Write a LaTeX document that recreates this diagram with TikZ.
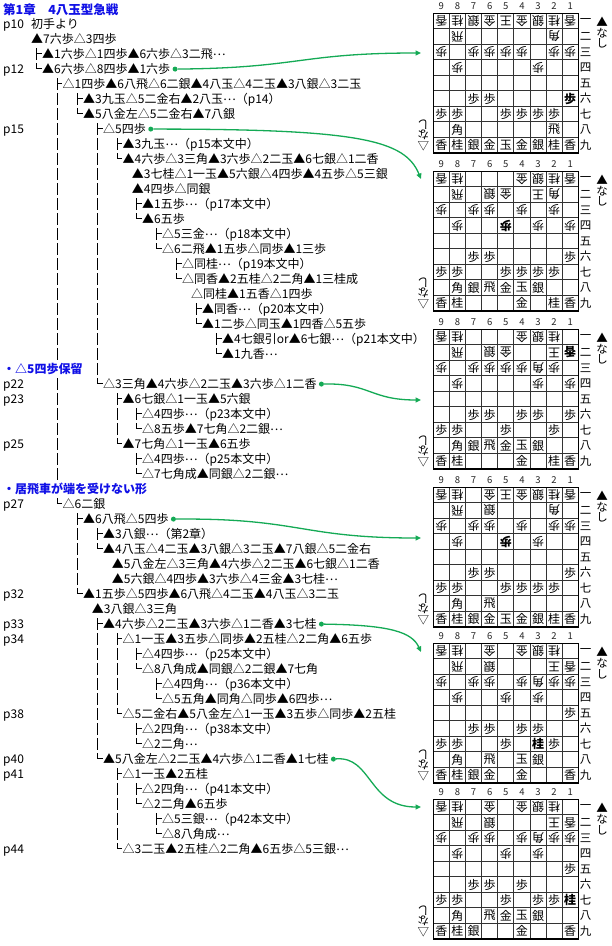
\documentclass[tikz,border=0pt]{standalone}
\usepackage{fontspec}
\setmainfont{Noto Sans CJK JP}
\usetikzlibrary{arrows.meta}
\definecolor{hdblue}{RGB}{16,16,230}
\definecolor{grn}{RGB}{20,170,85}
\newcommand{\el}{\raisebox{3.6bp}{…}}
\tikzset{
 txt/.style={anchor=base west, inner sep=0pt, font=\fontsize{12bp}{14bp}\selectfont},
 hdr/.style={anchor=base west, inner sep=0pt, text=hdblue, font=\fontsize{12bp}{14bp}\selectfont\bfseries},
 tree/.style={line width=0.9bp, black},
 grid/.style={line width=0.75bp, black!80},
 frame/.style={line width=1.6bp, black},
 colnum/.style={inner sep=0pt, text=black!85, font=\fontsize{9.5bp}{9.5bp}\selectfont},
 rownum/.style={inner sep=0pt, font=\fontsize{11.5bp}{12bp}\selectfont},
 hand/.style={inner sep=0pt, font=\fontsize{11.5bp}{12bp}\selectfont},
 sp/.style={inner sep=0pt, font=\fontsize{12bp}{12bp}\selectfont},
 gp/.style={sp, rotate=180},
 spb/.style={inner sep=0pt, font=\fontsize{12bp}{12bp}\selectfont\bfseries},
 gpb/.style={spb, rotate=180},
 dot/.style={circle, fill=grn, inner sep=0pt, minimum size=5bp},
 conn/.style={draw=grn, line width=1.3bp, -{Triangle[length=5.5bp,width=5bp]}}
}
\newcommand{\tl}[3]{\node[txt] (t#1) at (#2,{28.6+15*#1}) {#3};}
\newcommand{\pg}[2]{\node[txt] (p#1) at (3,{28.6+15*#1}) {#2};}
\newcommand{\brT}[2]{\draw[tree] ({#1+1.5},{18+15*#2}) -- ({#1+1.5},{30+15*#2}) ({#1+1.5},{23.5+15*#2}) -- ({#1+6.5},{23.5+15*#2});}
\newcommand{\brL}[2]{\draw[tree] ({#1+1.5},{18+15*#2}) -- ({#1+1.5},{23+15*#2}) -- ({#1+6.5},{23+15*#2});}
\newcommand{\brI}[2]{\draw[tree] ({#1+1.5},{18+15*#2}) -- ({#1+1.5},{30+15*#2});}
\newcommand{\pcs}[3]{\foreach \f/\r/\p in {#3}{\node[#2] (b#1#2\f\r) at ({(9-\f)*16.11+8.05},{(\r-1)*15.49+7.75}) {\p};}}
\newcommand{\boardframe}[1]{%
 \foreach \k in {1,...,8}{\draw[grid] ({16.11*\k},0) -- ({16.11*\k},139.4); \draw[grid] (0,{15.49*\k}) -- (145,{15.49*\k});}
 \draw[frame] (0,0) rectangle (145,139.4);
 \foreach \f [count=\c from 0] in {9,8,...,1}{\node[colnum] (b#1c\f) at ({16.11*\c+8.05},-7.3) {\f};}
 \foreach \rr [count=\c from 0] in {一,二,三,四,五,六,七,八,九}{\node[rownum] (b#1r\c) at (152.4,{15.49*\c+7.75}) {\rr};}
 \node[hand] (b#1h1) at (168.8,8.2) {▲};
 \node[hand] (b#1h2) at (168.8,19.5) {な};
 \node[hand] (b#1h3) at (168.8,30.5) {し};
 \node[hand,rotate=180] (b#1k1) at (-10,133) {△};
 \node[hand,rotate=180] (b#1k2) at (-10,122) {な};
 \node[hand,rotate=180] (b#1k3) at (-10,111) {し};
}
\begin{document}
\begin{tikzpicture}[x=1bp,y=-1bp]
\useasboundingbox[fill=white] (0,0) rectangle (612,946);
% ---------- text tree ----------
\node[hdr, font=\fontsize{12.5bp}{14bp}\selectfont\bfseries] (title) at (3,14.6) {第1章　4八玉型急戦};
\pg{0}{p10} \tl{0}{31}{初手より}
\tl{1}{31}{▲7六歩△3四歩}
\brT{35}{2} \tl{2}{42}{▲1六歩△1四歩▲6六歩△3二飛\el}
\pg{3}{p12} \brL{35}{3} \tl{3}{42}{▲6六歩△8四歩▲1六歩}
\brT{55.5}{4} \tl{4}{62.5}{△1四歩▲6八飛△6二銀▲4八玉△4二玉▲3八銀△3二玉}
\brI{55.5}{5} \brT{76}{5} \tl{5}{83}{▲3九玉△5二金右▲2八玉\el（p14）}
\brI{55.5}{6} \brL{76}{6} \tl{6}{83}{▲5八金左△5二金右▲7八銀}
\pg{7}{p15} \brI{55.5}{7} \brT{96}{7} \tl{7}{103}{△5四歩}
\foreach \i in {8,...,22}{\brI{55.5}{\i} \brI{96}{\i}}
\brT{115.5}{8} \tl{8}{122.5}{▲3九玉\el（p15本文中）}
\brL{115.5}{9} \tl{9}{122.5}{▲4六歩△3三角▲3六歩△2二玉▲6七銀△1二香}
\tl{10}{131.7}{▲3七桂△1一玉▲5六銀△4四歩▲4五歩△5三銀}
\tl{11}{131.7}{▲4四歩△同銀}
\brT{135}{12} \tl{12}{142}{▲1五歩\el（p17本文中）}
\brL{135}{13} \tl{13}{142}{▲6五歩}
\brT{155}{14} \tl{14}{162}{△5三金\el（p18本文中）}
\brL{155}{15} \tl{15}{162}{△6二飛▲1五歩△同歩▲1三歩}
\brT{175}{16} \tl{16}{182}{△同桂\el（p19本文中）}
\brL{175}{17} \tl{17}{182}{△同香▲2五桂△2二角▲1三桂成}
\tl{18}{191}{△同桂▲1五香△1四歩}
\brT{195}{19} \tl{19}{202}{▲同香\el（p20本文中）}
\brL{195}{20} \tl{20}{202}{▲1二歩△同玉▲1四香△5五歩}
\brT{215}{21} \tl{21}{222}{▲4七銀引or▲6七銀\el（p21本文中）}
\brL{215}{22} \tl{22}{222}{▲1九香\el}
\node[hdr] (h23) at (3,{28.6+15*23}) {・△5四歩保留};
\brI{96}{23}
\foreach \i in {24,...,30}{\brI{55.5}{\i}}
\pg{24}{p22} \brL{96}{24} \tl{24}{103}{△3三角▲4六歩△2二玉▲3六歩△1二香}
\pg{25}{p23} \brT{115.5}{25} \tl{25}{122.5}{▲6七銀△1一玉▲5六銀}
\brI{115.5}{26} \brT{135}{26} \tl{26}{142}{△4四歩\el（p23本文中）}
\brI{115.5}{27} \brL{135}{27} \tl{27}{142}{△8五歩▲7七角△2二銀\el}
\pg{28}{p25} \brL{115.5}{28} \tl{28}{122.5}{▲7七角△1一玉▲6五歩}
\brT{135}{29} \tl{29}{142}{△4四歩\el（p25本文中）}
\brL{135}{30} \tl{30}{142}{△7七角成▲同銀△2二銀\el}
\node[hdr] (h31) at (3,{28.6+15*31}) {・居飛車が端を受けない形};
\pg{32}{p27} \brL{55.5}{32} \tl{32}{62.5}{△6二銀}
\brT{76}{33} \tl{33}{83}{▲6八飛△5四歩}
\brI{76}{34} \brT{96}{34} \tl{34}{103}{▲3八銀\el（第2章）}
\brI{76}{35} \brL{96}{35} \tl{35}{103}{▲4八玉△4二玉▲3八銀△3二玉▲7八銀△5二金右}
\brI{76}{36} \tl{36}{111.7}{▲5八金左△3三角▲4六歩△2二玉▲6七銀△1二香}
\brI{76}{37} \tl{37}{111.7}{▲5六銀△4四歩▲3六歩△4三金▲3七桂\el}
\pg{38}{p32} \brL{76}{38} \tl{38}{83}{▲1五歩△5四歩▲6八飛△4二玉▲4八玉△3二玉}
\tl{39}{91.7}{▲3八銀△3三角}
\pg{40}{p33} \brT{96}{40} \tl{40}{103}{▲4六歩△2二玉▲3六歩△1二香▲3七桂}
\foreach \i in {41,...,48}{\brI{96}{\i}}
\pg{41}{p34} \brT{115.5}{41} \tl{41}{122.5}{△1一玉▲3五歩△同歩▲2五桂△2二角▲6五歩}
\foreach \i in {42,...,45}{\brI{115.5}{\i}}
\brT{135}{42} \tl{42}{142}{△4四歩\el（p25本文中）}
\brL{135}{43} \tl{43}{142}{△8八角成▲同銀△2二銀▲7七角}
\brT{155}{44} \tl{44}{162}{△4四角\el（p36本文中）}
\brL{155}{45} \tl{45}{162}{△5五角▲同角△同歩▲6四歩\el}
\pg{46}{p38} \brL{115.5}{46} \tl{46}{122.5}{△5二金右▲5八金左△1一玉▲3五歩△同歩▲2五桂}
\brT{135}{47} \tl{47}{142}{△2四角\el（p38本文中）}
\brL{135}{48} \tl{48}{142}{△2二角\el}
\pg{49}{p40} \brL{96}{49} \tl{49}{103}{▲5八金左△2二玉▲4六歩△1二香▲1七桂}
\pg{50}{p41} \brT{115.5}{50} \tl{50}{122.5}{△1一玉▲2五桂}
\foreach \i in {51,...,54}{\brI{115.5}{\i}}
\brT{135}{51} \tl{51}{142}{△2四角\el（p41本文中）}
\brL{135}{52} \tl{52}{142}{△2二角▲6五歩}
\brT{155}{53} \tl{53}{162}{△5三銀\el（p42本文中）}
\brL{155}{54} \tl{54}{162}{△8八角成\el}
\pg{55}{p44} \brL{115.5}{55} \tl{55}{122.5}{△3二玉▲2五桂△2二角▲6五歩△5三銀\el}
% ---------- boards ----------
\begin{scope}[shift={(433.3,13.3)}]
 \boardframe{1}
 \pcs{1}{gp}{9/1/香,8/1/桂,7/1/銀,6/1/金,5/1/王,4/1/金,3/1/銀,2/1/桂,1/1/香,8/2/飛,2/2/角,9/3/歩,7/3/歩,6/3/歩,5/3/歩,4/3/歩,2/3/歩,1/3/歩,8/4/歩,3/4/歩}
 \pcs{1}{sp}{7/6/歩,6/6/歩,9/7/歩,8/7/歩,5/7/歩,4/7/歩,3/7/歩,2/7/歩,8/8/角,2/8/飛,9/9/香,8/9/桂,7/9/銀,6/9/金,5/9/玉,4/9/金,3/9/銀,2/9/桂,1/9/香}
 \pcs{1}{spb}{1/6/歩}
\end{scope}
\begin{scope}[shift={(433.3,171.3)}]
 \boardframe{2}
 \pcs{2}{gp}{9/1/香,8/1/桂,4/1/金,3/1/銀,2/1/桂,1/1/香,8/2/飛,6/2/銀,5/2/金,3/2/王,2/2/角,9/3/歩,7/3/歩,6/3/歩,4/3/歩,2/3/歩,8/4/歩,3/4/歩,1/4/歩}
 \pcs{2}{gpb}{5/4/歩}
 \pcs{2}{sp}{7/6/歩,6/6/歩,1/6/歩,9/7/歩,8/7/歩,5/7/歩,4/7/歩,3/7/歩,2/7/歩,8/8/角,7/8/銀,6/8/飛,5/8/金,4/8/玉,3/8/銀,9/9/香,8/9/桂,4/9/金,2/9/桂,1/9/香}
\end{scope}
\begin{scope}[shift={(433.3,329.3)}]
 \boardframe{3}
 \pcs{3}{gp}{9/1/香,8/1/桂,4/1/金,3/1/銀,2/1/桂,8/2/飛,6/2/銀,5/2/金,2/2/王,9/3/歩,7/3/歩,6/3/歩,5/3/歩,4/3/歩,3/3/角,2/3/歩,8/4/歩,3/4/歩,1/4/歩}
 \pcs{3}{gpb}{1/2/香}
 \pcs{3}{sp}{7/6/歩,6/6/歩,4/6/歩,3/6/歩,1/6/歩,9/7/歩,8/7/歩,5/7/歩,2/7/歩,8/8/角,7/8/銀,6/8/飛,5/8/金,4/8/玉,3/8/銀,9/9/香,8/9/桂,4/9/金,2/9/桂,1/9/香}
\end{scope}
\begin{scope}[shift={(433.3,487.3)}]
 \boardframe{4}
 \pcs{4}{gp}{9/1/香,8/1/桂,6/1/金,5/1/王,4/1/金,3/1/銀,2/1/桂,1/1/香,8/2/飛,6/2/銀,2/2/角,9/3/歩,7/3/歩,6/3/歩,4/3/歩,2/3/歩,1/3/歩,8/4/歩,3/4/歩}
 \pcs{4}{gpb}{5/4/歩}
 \pcs{4}{sp}{7/6/歩,6/6/歩,1/6/歩,9/7/歩,8/7/歩,5/7/歩,4/7/歩,3/7/歩,2/7/歩,8/8/角,6/8/飛,9/9/香,8/9/桂,7/9/銀,6/9/金,5/9/玉,4/9/金,3/9/銀,2/9/桂,1/9/香}
\end{scope}
\begin{scope}[shift={(433.3,643.3)}]
 \boardframe{5}
 \pcs{5}{gp}{9/1/香,8/1/桂,6/1/金,4/1/金,3/1/銀,2/1/桂,8/2/飛,6/2/銀,2/2/王,1/2/香,9/3/歩,7/3/歩,6/3/歩,4/3/歩,3/3/角,2/3/歩,1/3/歩,8/4/歩,5/4/歩,3/4/歩}
 \pcs{5}{sp}{1/5/歩,7/6/歩,6/6/歩,4/6/歩,3/6/歩,9/7/歩,8/7/歩,5/7/歩,2/7/歩,8/8/角,6/8/飛,4/8/玉,3/8/銀,9/9/香,8/9/桂,7/9/銀,6/9/金,4/9/金,1/9/香}
 \pcs{5}{spb}{3/7/桂}
\end{scope}
\begin{scope}[shift={(433.3,799.3)}]
 \boardframe{6}
 \pcs{6}{gp}{9/1/香,8/1/桂,6/1/金,4/1/金,3/1/銀,2/1/桂,8/2/飛,6/2/銀,2/2/王,1/2/香,9/3/歩,7/3/歩,6/3/歩,4/3/歩,3/3/角,2/3/歩,1/3/歩,8/4/歩,5/4/歩,3/4/歩}
 \pcs{6}{sp}{1/5/歩,7/6/歩,6/6/歩,4/6/歩,9/7/歩,8/7/歩,5/7/歩,3/7/歩,2/7/歩,8/8/角,6/8/飛,5/8/金,4/8/玉,3/8/銀,9/9/香,8/9/桂,7/9/銀,4/9/金,1/9/香}
 \pcs{6}{spb}{1/7/桂}
\end{scope}
% ---------- connectors ----------
\node[dot] (d1) at ([xshift=4.7bp]t3.east) {};
\node[dot] (d2) at ([xshift=4.7bp]t7.east) {};
\node[dot] (d3) at ([xshift=4.7bp]t24.east) {};
\node[dot] (d4) at ([xshift=4.7bp]t33.east) {};
\node[dot] (d5) at ([xshift=4.7bp]t40.east) {};
\node[dot] (d6) at ([xshift=4.7bp]t49.east) {};
\coordinate (e1) at (421,53);
\coordinate (e2) at (421,179);
\coordinate (e3) at (421,400);
\coordinate (e4) at (421,538);
\coordinate (e5) at (421,652);
\coordinate (e6) at (421,807);
\draw[conn] (d1) .. controls (300,68) and (300,53) .. (e1);
\draw[conn] (d2) .. controls (360,129) and (405,140) .. (e2);
\draw[conn] (d3) .. controls (370,383) and (370,400) .. (e3);
\draw[conn] (d4) .. controls (300,518) and (300,538) .. (e4);
\draw[conn] (d5) .. controls (390,625) and (412,632) .. (e5);
\draw[conn] (d6) .. controls (372,756) and (368,807) .. (e6);
\end{tikzpicture}
\end{document}
